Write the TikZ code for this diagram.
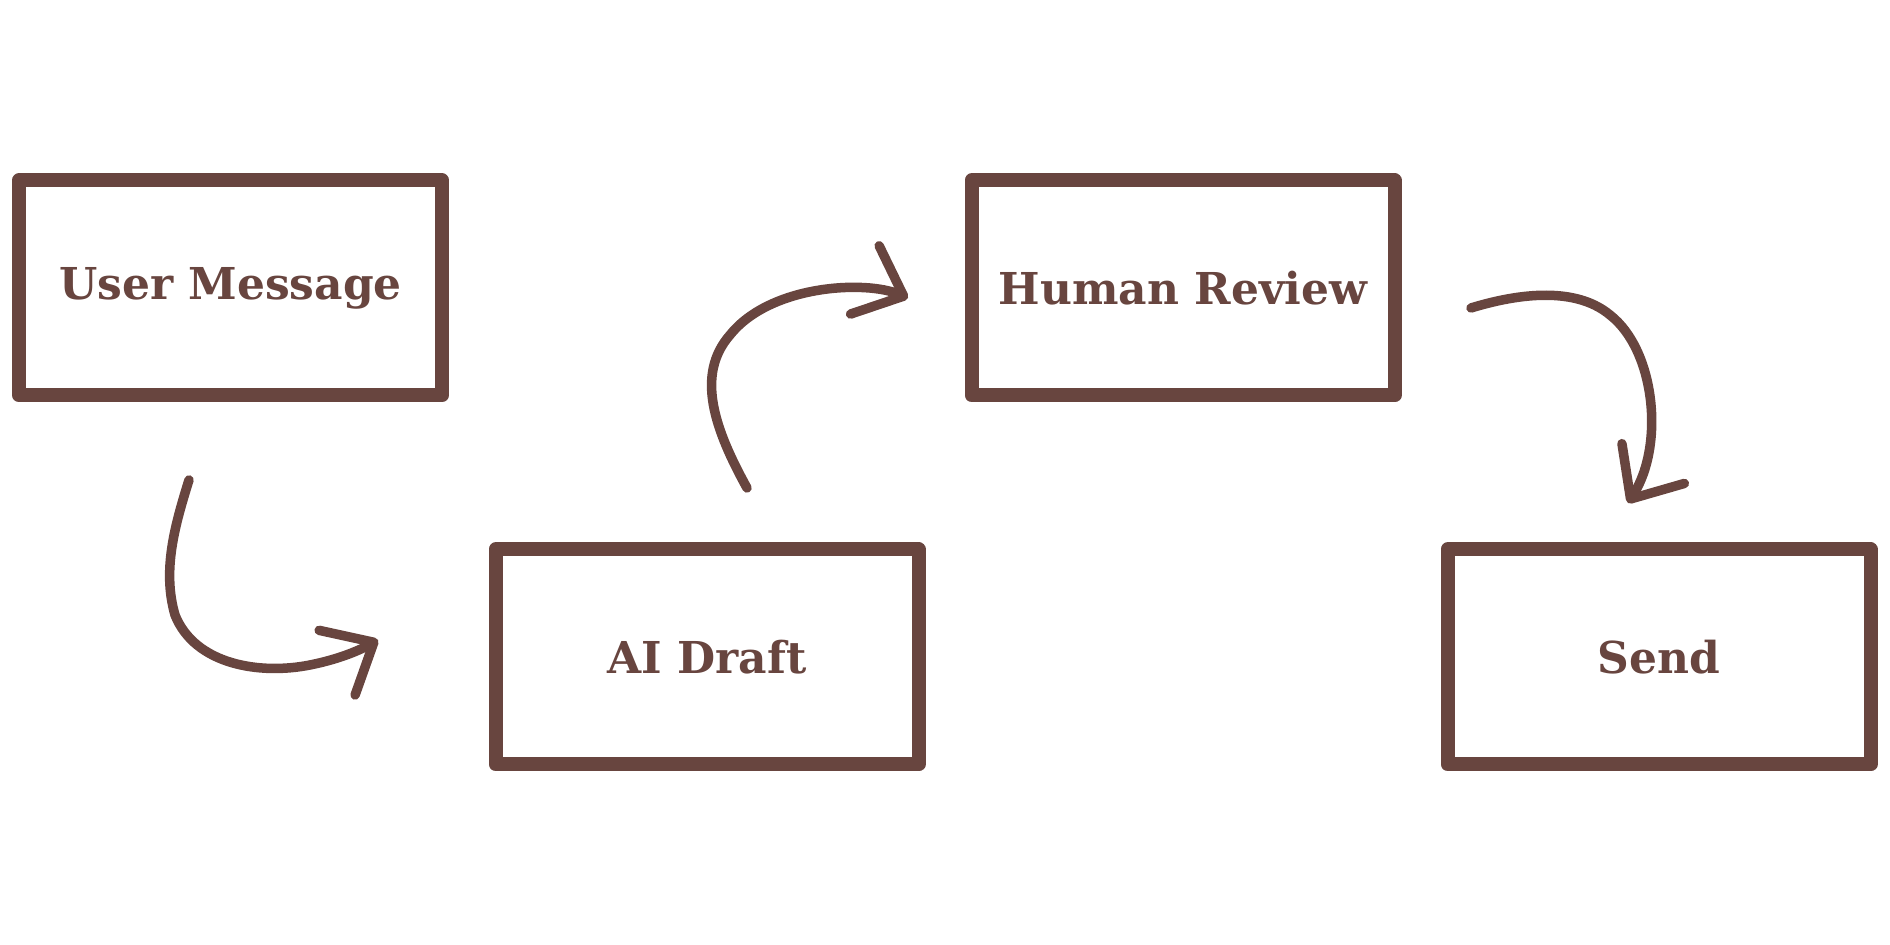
\documentclass[tikz,border=0pt]{standalone}
\usepackage{fontspec}
\usepackage{tikz}
\usetikzlibrary{arrows.meta, calc}
\setmainfont{DejaVu Serif}
\definecolor{flowbrown}{HTML}{68453F}

\begin{document}
\begin{tikzpicture}[
    stagebox/.style={draw=flowbrown, line width=0.14cm, line join=round, fill=white,
                  minimum width=4.23cm, minimum height=2.15cm, align=center,
                  text=flowbrown, font=\fontsize{12.5}{15}\selectfont\bfseries},
    sketcharrow/.style={draw=flowbrown, line width=0.095cm, line cap=round,
                  -{Straight Barb[length=0.42cm, width=0.74cm, round]}},
]
    \useasboundingbox (0, 0) rectangle (18.9, 9.45);

    \node[stagebox] (user) at (2.305, 6.57) {User Message};
    \node[stagebox] (draft) at (7.07, 2.88) {AI Draft};
    \node[stagebox] (review) at (11.83, 6.57) {Human Review};
    \node[stagebox] (send) at (16.59, 2.88) {Send};

    % loose ends of the hand-drawn arrows
    \coordinate (user-out) at (1.89, 4.65);
    \coordinate (draft-in) at (3.78, 3.05);
    \coordinate (draft-out) at (7.47, 4.57);
    \coordinate (review-in) at (9.08, 6.47);
    \coordinate (review-out) at (14.71, 6.37);
    \coordinate (send-in) at (16.28, 4.42);

    \draw[sketcharrow] (user-out) .. controls (1.75, 4.2) and (1.62, 3.75) .. (1.75, 3.3)
        .. controls (1.95, 2.8) and (2.6, 2.7) .. (3.1, 2.8)
        .. controls (3.4, 2.86) and (3.6, 2.95) .. (draft-in);
    \draw[sketcharrow] (draft-out) .. controls (7.15, 5.15) and (6.95, 5.7) .. (7.3, 6.1)
        .. controls (7.7, 6.6) and (8.65, 6.65) .. (review-in);
    \draw[sketcharrow] (review-out) .. controls (15.3, 6.55) and (15.8, 6.55) .. (16.1, 6.3)
        .. controls (16.55, 5.95) and (16.65, 5.0) .. (send-in);
\end{tikzpicture}
\end{document}
